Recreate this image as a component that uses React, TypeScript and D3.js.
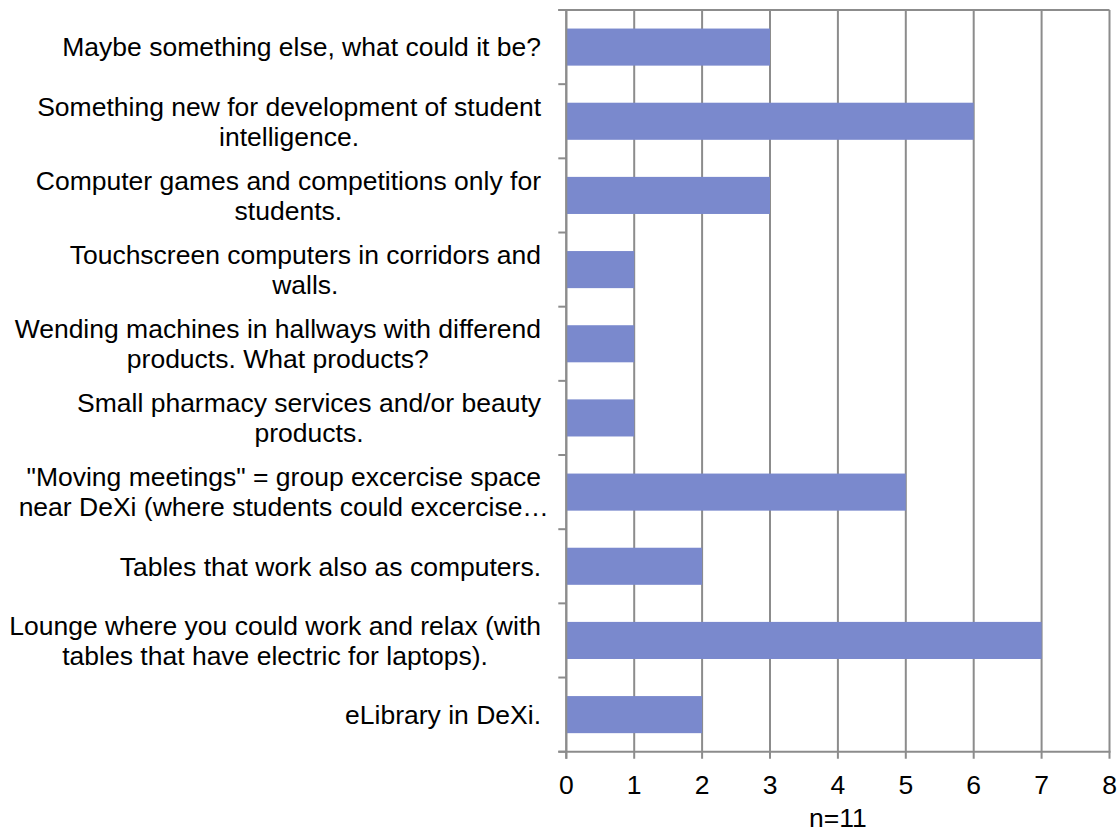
import React, { useEffect, useRef } from "react";
import * as d3 from "d3";

const categories: string[][] = [
  ["Maybe something else, what could it be?"],
  ["Something new for development of student", "intelligence."],
  ["Computer games and competitions only for", "students."],
  ["Touchscreen computers in corridors and", "walls."],
  ["Wending machines in hallways with differend", "products. What products?"],
  ["Small pharmacy services and/or beauty", "products."],
  ["\"Moving meetings\" = group excercise space", "near DeXi (where students could excercise…"],
  ["Tables that work also as computers."],
  ["Lounge where you could work and relax (with", "tables that have electric for laptops)."],
  ["eLibrary in DeXi."],
];
const values: number[] = [3, 6, 3, 1, 1, 1, 5, 2, 7, 2];
const xTicks: number[] = [0, 1, 2, 3, 4, 5, 6, 7, 8];
const xTitle = "n=11";

const W = 1120;
const H = 833;
const FONT = "'Liberation Sans', Arial, sans-serif";
const FS = 26.5;

export default function App() {
  const ref = useRef<SVGSVGElement>(null);
  useEffect(() => {
    const svg = d3.select(ref.current);
    svg.selectAll("*").remove();
    const left = 566.3, right = 1109.5, top = 10, bottom = 751.7;
    const x = d3.scaleLinear().domain([0, 8]).range([left, right]);
    const ids = categories.map((_, i) => String(i));
    const y = d3.scaleBand<string>().domain(ids).range([top, bottom]).paddingInner(0.5).paddingOuter(0.25);
    const grid = "#8c8c8c";

    // vertical gridlines
    svg.append("g").selectAll("line").data(xTicks).join("line")
      .attr("x1", d => x(d)).attr("x2", d => x(d))
      .attr("y1", top).attr("y2", bottom + 7)
      .attr("stroke", grid).attr("stroke-width", 2);
    // top border
    svg.append("line").attr("x1", left - 8).attr("x2", right).attr("y1", top).attr("y2", top)
      .attr("stroke", grid).attr("stroke-width", 2);
    // bottom axis
    svg.append("line").attr("x1", left - 8).attr("x2", right + 1).attr("y1", bottom).attr("y2", bottom)
      .attr("stroke", grid).attr("stroke-width", 2);
    // left category ticks
    const bounds = d3.range(categories.length + 1).map(i => top + (i * (bottom - top)) / categories.length);
    svg.append("g").selectAll("line").data(bounds).join("line")
      .attr("x1", left - 8).attr("x2", left).attr("y1", d => d).attr("y2", d => d)
      .attr("stroke", grid).attr("stroke-width", 2);

    // bars
    svg.append("g").selectAll("rect").data(values).join("rect")
      .attr("x", x(0)).attr("y", (_, i) => y(String(i))!)
      .attr("width", d => x(d) - x(0)).attr("height", y.bandwidth())
      .attr("fill", "#7a89cd");

    // left axis line on top of bars
    svg.append("line").attr("x1", left).attr("x2", left).attr("y1", top).attr("y2", bottom + 7)
      .attr("stroke", grid).attr("stroke-width", 2);

    // x tick labels
    svg.append("g").selectAll("text").data(xTicks).join("text")
      .attr("x", d => x(d)).attr("y", 785).attr("dy", "0.35em")
      .attr("text-anchor", "middle").attr("font-family", FONT).attr("font-size", FS)
      .attr("fill", "#000").text(d => String(d));
    svg.append("text").attr("x", (left + right) / 2).attr("y", 818).attr("dy", "0.35em")
      .attr("text-anchor", "middle").attr("font-family", FONT).attr("font-size", FS)
      .text(xTitle);

    // category labels
    const canvas = document.createElement("canvas");
    const ctx = canvas.getContext("2d")!;
    ctx.font = `${FS}px ${FONT}`;
    const labelRight = 541;
    const lineH = 30;
    categories.forEach((lines, i) => {
      const cy = y(String(i))! + y.bandwidth() / 2;
      const w0 = ctx.measureText(lines[0]).width;
      const cx = labelRight - w0 / 2;
      lines.forEach((ln, j) => {
        const ly = cy + (j - (lines.length - 1) / 2) * lineH;
        svg.append("text").attr("x", cx).attr("y", ly).attr("dy", "0.35em")
          .attr("text-anchor", "middle").attr("font-family", FONT).attr("font-size", FS)
          .attr("fill", "#000").text(ln);
      });
    });
  }, []);
  return (
    <svg ref={ref} width={W} height={H} style={{ position: "absolute", left: 0, top: 0, background: "#fff" }} />
  );
}
